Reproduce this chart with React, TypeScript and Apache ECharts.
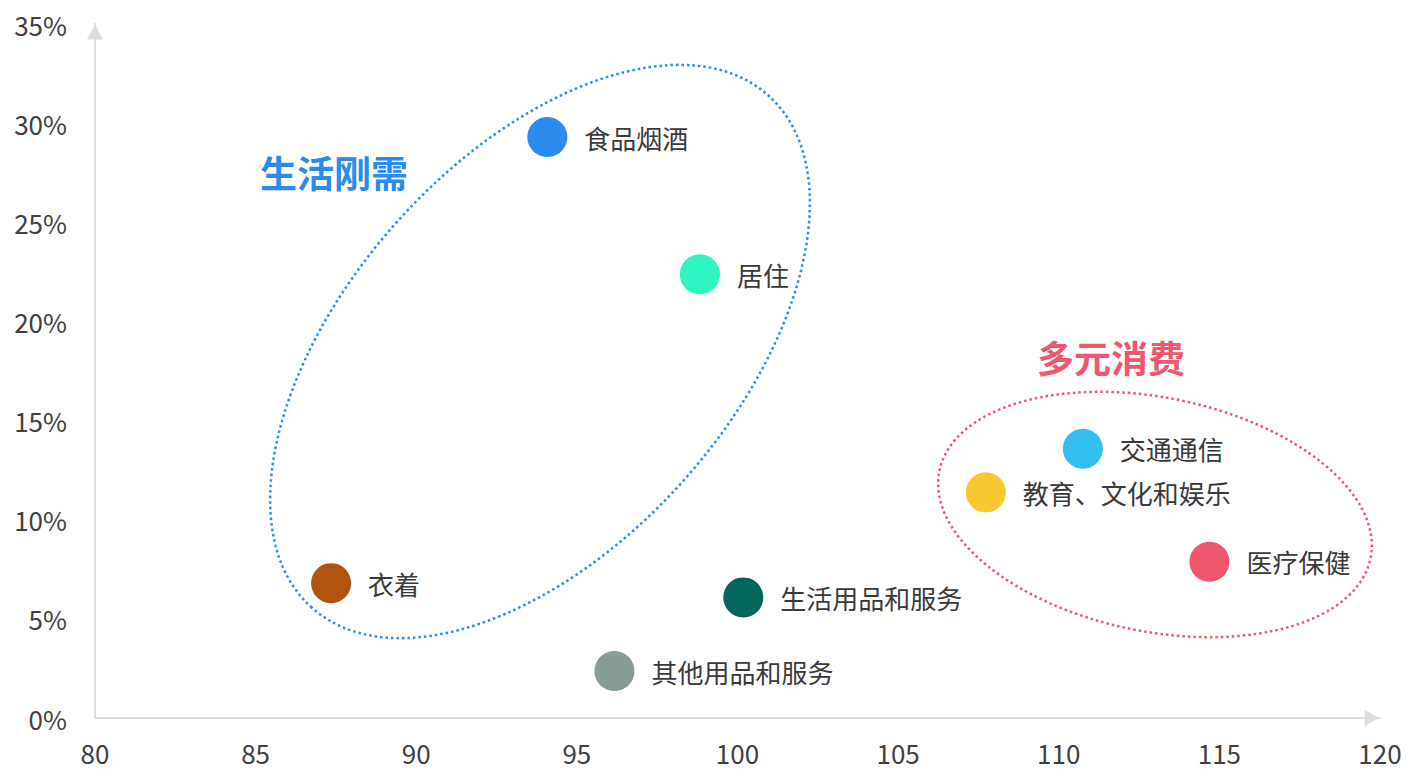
import React, { useEffect, useRef } from "react";
import * as echarts from "echarts";

const categories = [
  "食品烟酒",
  "居住",
  "衣着",
  "生活用品和服务",
  "其他用品和服务",
  "交通通信",
  "教育、文化和娱乐",
  "医疗保健",
];
const xValues = [94.08, 98.83, 87.35, 100.18, 96.17, 110.75, 107.73, 114.69];
const yValues = [29.3, 22.38, 6.8, 6.08, 2.37, 13.58, 11.38, 7.88];
const colors = [
  "#2b8cee",
  "#2ef5c2",
  "#b0540f",
  "#00675a",
  "#879b97",
  "#33bfef",
  "#f9c730",
  "#f0576f",
];
const xTicks = { min: 80, max: 120, interval: 5 };
const yTicks = { min: 0, max: 35, interval: 5 };
const groupLabels = ["生活刚需", "多元消费"];

const FONT = "'Noto Sans CJK SC', 'Noto Sans', sans-serif";

export default function App() {
  const ref = useRef<HTMLDivElement>(null);
  useEffect(() => {
    if (!ref.current) return;
    const chart = echarts.init(ref.current, undefined, { renderer: "svg" });
    const data = categories.map((name, i) => ({
      name,
      value: [xValues[i], yValues[i]],
      itemStyle: { color: colors[i], opacity: 1 },
    }));
    const axisLine = {
      show: true,
      lineStyle: { color: "#dddddd", width: 2 },
      symbol: ["none", "triangle"],
      symbolSize: [16, 15],
      symbolOffset: [0, -8],
    };
    chart.setOption({
      animation: false,
      textStyle: { fontFamily: FONT },
      grid: { left: 95, right: 27, top: 24, bottom: 52, containLabel: false },
      xAxis: {
        type: "value",
        min: xTicks.min,
        max: xTicks.max,
        interval: xTicks.interval,
        axisLine,
        axisTick: { show: false },
        splitLine: { show: false },
        axisLabel: { color: "#404040", fontSize: 26, margin: 21, fontFamily: FONT },
      },
      yAxis: {
        type: "value",
        min: yTicks.min,
        max: yTicks.max,
        interval: yTicks.interval,
        axisLine,
        axisTick: { show: false },
        splitLine: { show: false },
        axisLabel: {
          color: "#404040",
          fontSize: 26,
          margin: 28,
          formatter: "{value}%",
          fontFamily: FONT,
        },
      },
      graphic: [
        {
          type: "ellipse",
          x: 540,
          y: 351.5,
          rotation: 0.843,
          shape: { cx: 0, cy: 0, rx: 343, ry: 193 },
          style: { fill: "none", stroke: "#2b8cee", lineWidth: 2.5, lineDash: [2.5, 3] },
          silent: true,
          z: 1,
        },
        {
          type: "ellipse",
          x: 1155,
          y: 514.5,
          rotation: -0.199,
          shape: { cx: 0, cy: 0, rx: 220, ry: 117 },
          style: { fill: "none", stroke: "#f0576f", lineWidth: 2.5, lineDash: [2.5, 3] },
          silent: true,
          z: 1,
        },
        {
          type: "text",
          x: 334,
          y: 172,
          style: {
            text: groupLabels[0],
            fill: "#2b8cee",
            fontSize: 37,
            fontWeight: "bold",
            fontFamily: FONT,
            align: "center",
            verticalAlign: "middle",
          },
        },
        {
          type: "text",
          x: 1111,
          y: 357,
          style: {
            text: groupLabels[1],
            fill: "#f0576f",
            fontSize: 37,
            fontWeight: "bold",
            fontFamily: FONT,
            align: "center",
            verticalAlign: "middle",
          },
        },
      ],
      series: [
        {
          type: "scatter",
          symbol: "circle",
          symbolSize: 40,
          data,
          z: 5,
          label: {
            show: true,
            position: "right",
            distance: 17,
            formatter: "{b}",
            color: "#3a3a3a",
            fontSize: 26,
            fontFamily: FONT,
          },
          emphasis: { disabled: true },
        },
      ],
    });
    return () => chart.dispose();
  }, []);
  return (
    <div
      ref={ref}
      style={{ position: "absolute", left: 0, top: 0, width: 1407, height: 770 }}
    />
  );
}
